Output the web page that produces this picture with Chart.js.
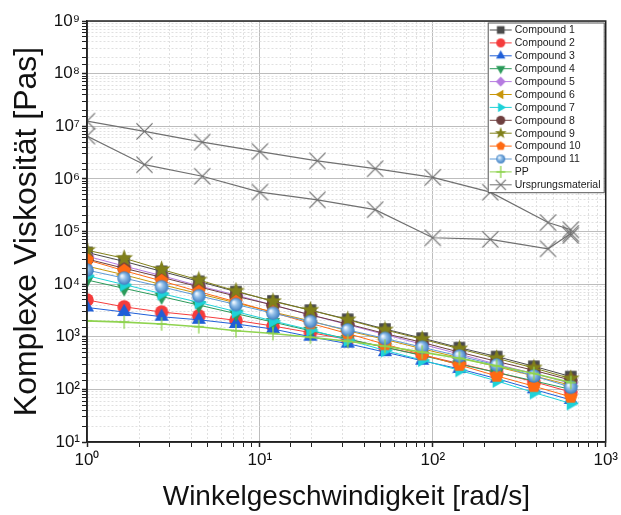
<!DOCTYPE html>
<html>
<head>
<meta charset="utf-8">
<script src="https://cdn.jsdelivr.net/npm/chart.js@4.4.1/dist/chart.umd.min.js"></script>
<style>
  html, body { margin: 0; padding: 0; background: #fff; }
</style>
</head>
<body>
<canvas id="myChart" width="621" height="515"></canvas>
<script>
// frequency sweep points [rad/s]
const omega = [1, 1.64, 2.70, 4.43, 7.27, 11.9, 19.6, 32.2, 52.9, 86.8, 142.5, 234, 384, 628];

// complex viscosity [Pas] per compound
const compound1  = [4.0e4, 2.7e4, 1.75e4, 1.13e4, 7.2e3, 4.8e3, 3.2e3, 2.15e3, 1.4e3, 940, 620, 420, 275, 175];
const compound2  = [5.0e3, 3.7e3, 2.95e3, 2.5e3, 2.05e3, 1.6e3, 1.2e3, 890, 630, 450, 310, 210, 140, 89];
const compound3  = [3.6e3, 2.95e3, 2.4e3, 2.1e3, 1.75e3, 1.4e3, 1.0e3, 740, 510, 350, 245, 160, 100, 63];
const compound4  = [1.2e4, 8.3e3, 5.8e3, 4.0e3, 2.75e3, 1.9e3, 1.3e3, 910, 630, 440, 300, 210, 145, 100];
const compound5  = [3.4e4, 2.2e4, 1.45e4, 9.3e3, 6.2e3, 4.0e3, 2.6e3, 1.7e3, 1.1e3, 720, 470, 300, 200, 130];
const compound6  = [2.2e4, 1.5e4, 9.8e3, 6.6e3, 4.4e3, 2.95e3, 2.0e3, 1.3e3, 890, 590, 400, 270, 180, 120];
const compound7  = [1.45e4, 9.8e3, 6.6e3, 4.5e3, 3.0e3, 2.0e3, 1.35e3, 870, 550, 360, 230, 145, 87, 54];
const compound8  = [3.0e4, 2.0e4, 1.35e4, 8.9e3, 5.9e3, 4.0e3, 2.6e3, 1.75e3, 1.15e3, 780, 510, 340, 230, 150];
const compound9  = [4.4e4, 3.1e4, 1.9e4, 1.2e4, 7.4e3, 4.7e3, 3.2e3, 2.1e3, 1.35e3, 900, 590, 390, 255, 160];
const compound10 = [2.9e4, 1.8e4, 1.15e4, 7.2e3, 4.6e3, 2.9e3, 1.8e3, 1.15e3, 720, 460, 290, 180, 115, 72];
const compound11 = [1.85e4, 1.3e4, 8.9e3, 6.0e3, 4.1e3, 2.8e3, 1.95e3, 1.35e3, 930, 630, 430, 290, 180, 110];
const ppValues   = [2.0e3, 1.9e3, 1.75e3, 1.55e3, 1.3e3, 1.15e3, 980, 820, 660, 510, 390, 280, 200, 135];

// original material: up-sweep then down-sweep
const urOmega  = [1, 2.15, 4.64, 10, 21.5, 46.4, 100, 215, 464, 628, 628, 628, 464, 215, 100, 46.4, 21.5, 10, 4.64, 2.15, 1];
const urValues = [1.25e7, 8.0e6, 5.0e6, 3.3e6, 2.2e6, 1.56e6, 1.07e6, 5.6e5, 1.48e5, 1.08e5, 8.4e4, 9.2e4, 4.7e4, 7.1e4, 7.6e4, 2.6e5, 4.0e5, 5.6e5, 1.12e6, 1.86e6, 6.5e6];

const seriesNames = ['Compound 1', 'Compound 2', 'Compound 3', 'Compound 4', 'Compound 5', 'Compound 6',
  'Compound 7', 'Compound 8', 'Compound 9', 'Compound 10', 'Compound 11', 'PP', 'Ursprungsmaterial'];
const seriesValues = [compound1, compound2, compound3, compound4, compound5, compound6,
  compound7, compound8, compound9, compound10, compound11, ppValues];

const xTickValues = [1, 10, 100, 1000];
const xTickLabels = ['10⁰', '10¹', '10²', '10³'];
const yTickValues = [1e1, 1e2, 1e3, 1e4, 1e5, 1e6, 1e7, 1e8, 1e9];
const yTickLabels = ['10¹', '10²', '10³', '10⁴', '10⁵', '10⁶', '10⁷', '10⁸', '10⁹'];

const colors = ['#4a4a4a', '#f53c3c', '#1f5fd8', '#2b9a5a', '#b57be0', '#c8960a',
  '#1ed2d8', '#6e3f3f', '#80801a', '#ff6a13', '#5e9ad6', '#8fd34f', '#707070'];
const shapes = ['square', 'circle', 'up', 'down', 'diamond', 'left', 'right', 'circle',
  'star', 'pentagon', 'sphere', 'plus', 'x'];

function makeMarker(shape, color, r) {
  const size = Math.ceil(2 * r + 4);
  const c = document.createElement('canvas');
  c.width = size; c.height = size;
  const g = c.getContext('2d');
  const m = size / 2;
  g.fillStyle = color;
  g.strokeStyle = color;
  g.lineWidth = 1;
  const poly = (n, startDeg, rad, inner) => {
    g.beginPath();
    const cnt = inner ? n * 2 : n;
    for (let i = 0; i < cnt; i++) {
      const a = (startDeg + i * 360 / cnt) * Math.PI / 180;
      const rr = inner && i % 2 ? inner : rad;
      const px = m + rr * Math.cos(a), py = m + rr * Math.sin(a);
      if (i === 0) g.moveTo(px, py); else g.lineTo(px, py);
    }
    g.closePath();
    g.fill();
  };
  if (shape === 'square') {
    g.fillRect(m - r * 0.85, m - r * 0.85, r * 1.7, r * 1.7);
  } else if (shape === 'circle') {
    g.beginPath(); g.arc(m, m, r, 0, Math.PI * 2); g.fill();
  } else if (shape === 'up') {
    poly(3, -90, r * 1.2);
  } else if (shape === 'down') {
    poly(3, 90, r * 1.2);
  } else if (shape === 'left') {
    poly(3, 180, r * 1.2);
  } else if (shape === 'right') {
    poly(3, 0, r * 1.2);
  } else if (shape === 'diamond') {
    poly(4, -90, r * 1.1);
  } else if (shape === 'pentagon') {
    poly(5, -90, r * 1.05);
  } else if (shape === 'star') {
    poly(5, -90, r * 1.25, r * 0.5);
  } else if (shape === 'sphere') {
    const gr = g.createRadialGradient(m - r * 0.35, m - r * 0.35, r * 0.1, m, m, r);
    gr.addColorStop(0, '#eef6fd');
    gr.addColorStop(0.4, '#8fbde8');
    gr.addColorStop(1, '#3c7cc0');
    g.fillStyle = gr;
    g.beginPath(); g.arc(m, m, r, 0, Math.PI * 2); g.fill();
  } else if (shape === 'plus') {
    g.lineWidth = 1.3;
    g.beginPath();
    g.moveTo(m, m - r); g.lineTo(m, m + r);
    g.moveTo(m - r * 0.75, m); g.lineTo(m + r * 0.75, m);
    g.stroke();
  } else if (shape === 'x') {
    g.lineWidth = 1.2;
    const d = r * 0.85;
    g.beginPath();
    g.moveTo(m - d, m - d); g.lineTo(m + d, m + d);
    g.moveTo(m + d, m - d); g.lineTo(m - d, m + d);
    g.stroke();
  }
  return c;
}

const isMajor = v => v !== undefined && Math.abs(Math.log10(v) - Math.round(Math.log10(v))) < 1e-9;

const datasets = seriesValues.map((vals, i) => ({
  label: seriesNames[i],
  data: omega.map((w, j) => ({ x: w, y: vals[j] })),
  showLine: true,
  borderColor: colors[i],
  backgroundColor: colors[i],
  borderWidth: i === 11 ? 1.6 : 1,
  pointStyle: makeMarker(shapes[i], colors[i], shapes[i] === 'star' ? 7.5 : 6.8),
  pointRadius: 6,
  clip: 0,
  order: 20 - i
}));
datasets.push({
  label: seriesNames[12],
  data: urOmega.map((w, j) => ({ x: w, y: urValues[j] })),
  showLine: true,
  borderColor: colors[12],
  borderWidth: 1.2,
  pointStyle: makeMarker('x', colors[12], 9.5),
  pointRadius: 6,
  clip: 0,
  order: 1
});

const legendMarkers = shapes.map((s, i) => makeMarker(s, colors[i], s === 'star' ? 5 : (s === 'x' || s === 'plus') ? 6 : 4.5));

const frameAndLegend = {
  id: 'frameAndLegend',
  afterDraw(chart) {
    const ctx = chart.ctx;
    const a = chart.chartArea;
    ctx.save();
    ctx.strokeStyle = '#222';
    ctx.lineWidth = 1.5;
    ctx.strokeRect(a.left, a.top, a.right - a.left, a.bottom - a.top);

    const w = 116, rowH = 12.9;
    const x0 = a.right - w - 2, y0 = a.top + 1.5;
    const h = rowH * seriesNames.length + 2;
    ctx.fillStyle = '#fff';
    ctx.fillRect(x0, y0, w, h);
    ctx.strokeStyle = '#555';
    ctx.lineWidth = 1;
    ctx.strokeRect(x0 + 0.5, y0 + 0.5, w, h);
    ctx.font = '10.5px "Liberation Sans", Arial, sans-serif';
    ctx.textBaseline = 'middle';
    seriesNames.forEach((name, i) => {
      const cy = y0 + 7.5 + i * rowH;
      ctx.strokeStyle = colors[i];
      ctx.lineWidth = 1;
      ctx.beginPath();
      ctx.moveTo(x0 + 2, cy);
      ctx.lineTo(x0 + 24, cy);
      ctx.stroke();
      const mk = legendMarkers[i];
      ctx.drawImage(mk, x0 + 13 - mk.width / 2, cy - mk.height / 2);
      ctx.fillStyle = '#1a1a1a';
      ctx.fillText(name, x0 + 27, cy + 0.5);
    });
    ctx.restore();
  }
};

Chart.defaults.font.family = '"Liberation Sans", Arial, sans-serif';
Chart.defaults.color = '#111';

const ctx = document.getElementById('myChart').getContext('2d');
const myChart = new Chart(ctx, {
  type: 'scatter',
  data: { datasets: datasets },
  options: {
    responsive: false,
    animation: false,
    layout: { padding: { top: 21, right: 14, left: 0, bottom: 0 } },
    plugins: { legend: { display: false }, tooltip: { enabled: false } },
    scales: {
      x: {
        type: 'logarithmic',
        min: 1,
        max: 1000,
        afterFit: s => { s.height = 73; },
        ticks: {
          autoSkip: false,
          maxRotation: 0,
          padding: 3,
          font: { size: 17 },
          color: '#111',
          callback: value => {
            const i = xTickValues.findIndex(v => Math.abs(v - value) / v < 1e-6);
            return i >= 0 ? xTickLabels[i] : '';
          }
        },
        grid: {
          color: c => isMajor(c.tick && c.tick.value) ? '#bdbdbd' : '#e0e0e0',
          lineWidth: 1,
          tickLength: 5,
          tickColor: '#222',
          tickWidth: c => isMajor(c.tick && c.tick.value) ? 1.5 : 1
        },
        border: {
          color: '#222',
          width: 1.5,
          dash: c => (c.tick && !isMajor(c.tick.value)) ? [2, 2] : []
        },
        title: {
          display: true,
          text: 'Winkelgeschwindigkeit [rad/s]',
          font: { size: 28 },
          color: '#111',
          padding: { top: 2, bottom: 1 }
        }
      },
      y: {
        type: 'logarithmic',
        min: 10,
        max: 1e9,
        afterFit: s => { s.width = 87; },
        ticks: {
          autoSkip: false,
          padding: 2,
          font: { size: 17 },
          color: '#111',
          callback: value => {
            const i = yTickValues.findIndex(v => Math.abs(v - value) / v < 1e-6);
            return i >= 0 ? yTickLabels[i] : '';
          }
        },
        grid: {
          color: c => isMajor(c.tick && c.tick.value) ? '#bdbdbd' : '#e0e0e0',
          lineWidth: 1,
          tickLength: 5,
          tickColor: '#222',
          tickWidth: c => isMajor(c.tick && c.tick.value) ? 1.5 : 1
        },
        border: {
          color: '#222',
          width: 1.5,
          dash: c => (c.tick && !isMajor(c.tick.value)) ? [2, 2] : []
        },
        title: {
          display: true,
          text: 'Komplexe Viskosität [Pas]',
          font: { size: 32 },
          color: '#111',
          padding: { top: 8, bottom: 0 }
        }
      }
    }
  },
  plugins: [frameAndLegend]
});
</script>
</body>
</html>
